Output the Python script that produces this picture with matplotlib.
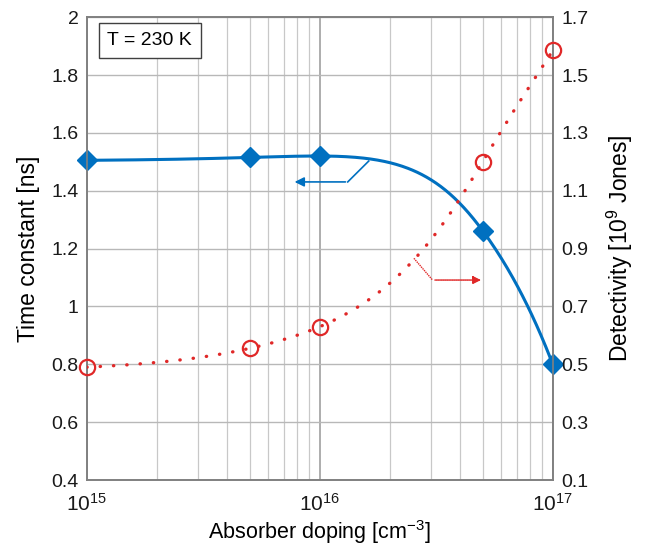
import numpy as np
import matplotlib
matplotlib.use("Agg")
import matplotlib.pyplot as plt
from matplotlib.ticker import FixedLocator, NullFormatter

plt.rcParams['font.family'] = ['Liberation Sans', 'DejaVu Sans']
plt.rcParams['mathtext.fontset'] = 'custom'
plt.rcParams['mathtext.rm'] = 'Liberation Sans'
plt.rcParams['mathtext.it'] = 'Liberation Sans'

doping = [1e15, 5e15, 1e16, 5e16, 1e17]
time_constant = [1.505, 1.515, 1.52, 1.262, 0.80]
detectivity = [0.49, 0.555, 0.63, 1.20, 1.585]

left_ticks = [0.4, 0.6, 0.8, 1.0, 1.2, 1.4, 1.6, 1.8, 2.0]
left_labels = ['0.4', '0.6', '0.8', '1', '1.2', '1.4', '1.6', '1.8', '2']
right_ticks = [0.1, 0.3, 0.5, 0.7, 0.9, 1.1, 1.3, 1.5, 1.7]

blue = '#0070c0'
red = '#e02828'


def natural_spline(xs, ys, n=400):
    # natural cubic spline in linear x
    x = np.asarray(xs, float) / 1e15
    y = np.asarray(ys, float)
    m = len(x)
    h = np.diff(x)
    A = np.zeros((m, m))
    b = np.zeros(m)
    A[0, 0] = A[-1, -1] = 1
    for i in range(1, m - 1):
        A[i, i - 1] = h[i - 1]
        A[i, i] = 2 * (h[i - 1] + h[i])
        A[i, i + 1] = h[i]
        b[i] = 6 * ((y[i + 1] - y[i]) / h[i] - (y[i] - y[i - 1]) / h[i - 1])
    M = np.linalg.solve(A, b)
    xx = np.logspace(np.log10(x[0]), np.log10(x[-1]), n)
    idx = np.clip(np.searchsorted(x, xx) - 1, 0, m - 2)
    x0, x1 = x[idx], x[idx + 1]
    hh = x1 - x0
    t0, t1 = x1 - xx, xx - x0
    yy = (M[idx] * t0 ** 3 + M[idx + 1] * t1 ** 3) / (6 * hh) \
        + (y[idx] / hh - M[idx] * hh / 6) * t0 + (y[idx + 1] / hh - M[idx + 1] * hh / 6) * t1
    return xx * 1e15, yy


fig = plt.figure(figsize=(6.48, 5.53), dpi=100)
ax = fig.add_axes([0.134, 0.132, 0.719, 0.837])
ax2 = ax.twinx()

ax.set_xscale('log')
ax.set_xlim(1e15, 1e17)
ax.set_ylim(0.4, 2.0)
ax2.set_ylim(0.1, 1.7)

ax.set_yticks(left_ticks)
ax.set_yticklabels(left_labels)
ax2.set_yticks(right_ticks)
ax2.set_yticklabels([f'{v:.1f}' for v in right_ticks])

ax.xaxis.set_minor_locator(FixedLocator([m * 10 ** e for e in (15, 16) for m in range(2, 10)]))
ax.xaxis.set_minor_formatter(NullFormatter())

ax.grid(True, which='major', axis='both', color='#b8b8b8', lw=1.0)
ax.grid(True, which='minor', axis='x', color='#c8c8c8', lw=0.9)
ax.xaxis.grid(True, which='major', color='#a0a0a0', lw=1.2)
ax.set_axisbelow(True)

for a in (ax, ax2):
    for s in a.spines.values():
        s.set_color('#808080')
        s.set_linewidth(1.2)
    a.tick_params(which='both', length=0, labelsize=14, colors='#1a1a1a')
ax.tick_params(axis='x', pad=9, labelsize=15)
ax.tick_params(axis='y', pad=6)
ax2.tick_params(axis='y', pad=6)

sx, sy = natural_spline(doping, time_constant)
ax.plot(sx, sy, color=blue, lw=2.2, zorder=3)
ax.plot(doping, time_constant, linestyle='none', marker='D', ms=10, color=blue, zorder=4, clip_on=False)

rx, ry = natural_spline(doping, detectivity)
ax2.plot(rx, ry, color=red, lw=2.4, linestyle=(0, (0.1, 3.9)), dash_capstyle='round', zorder=3)
ax2.plot(doping, detectivity, linestyle='none', marker='o', ms=11, mfc='none', mec=red, mew=1.6,
         zorder=4, clip_on=False)

ax.set_xlabel('Absorber doping [cm$^{-3}$]', fontsize=15.5, labelpad=3)
ax.set_ylabel('Time constant [ns]', fontsize=16.5, labelpad=8)
ax2.set_ylabel('Detectivity [10$^{9}$ Jones]', fontsize=16.5, labelpad=12)

# annotation arrows (axes fraction)
ax.plot([0.605, 0.560], [0.689, 0.644], color=blue, lw=1.2, transform=ax.transAxes, zorder=5)
ax.annotate('', xy=(0.44, 0.644), xytext=(0.561, 0.644), xycoords='axes fraction',
            arrowprops=dict(arrowstyle='-|>', color=blue, lw=1.2, mutation_scale=14))
ax.plot([0.702, 0.742], [0.479, 0.432], color=red, lw=1.0, ls=(0, (1, 0.6)), transform=ax.transAxes, zorder=5)
ax.annotate('', xy=(0.852, 0.432), xytext=(0.741, 0.432), xycoords='axes fraction',
            arrowprops=dict(arrowstyle='-|>', color=red, lw=1.0, ls=(0, (1, 0.6)), mutation_scale=12))

ax.text(0.135, 0.95, 'T = 230 K', transform=ax.transAxes, fontsize=14, ha='center', va='center',
        bbox=dict(boxstyle='square,pad=0.45', fc='white', ec='#404040', lw=1.0), zorder=6)

fig.savefig('out.png', dpi=100)
